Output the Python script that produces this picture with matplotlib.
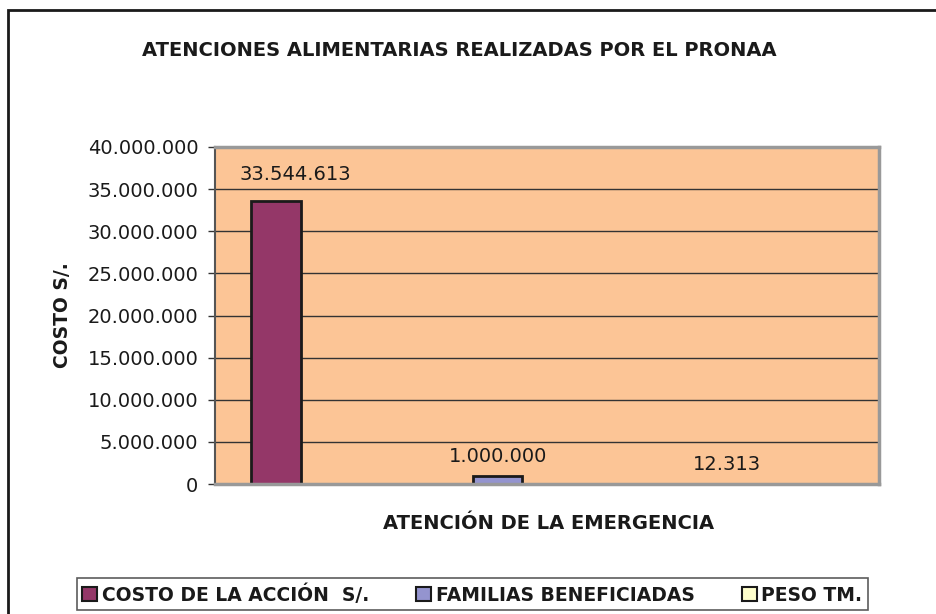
import matplotlib
matplotlib.use('Agg')
import matplotlib.pyplot as plt
from matplotlib.patches import Rectangle
from matplotlib.ticker import FuncFormatter, MultipleLocator

# the original text is a wide Arial-like face; DejaVu Sans matches its widths better
plt.rcParams['font.family'] = ['DejaVu Sans']

# Data
series = ['COSTO DE LA ACCIÓN  S/.', 'FAMILIAS BENEFICIADAS', 'PESO TM.']
values = [33544613, 1000000, 12313]
colors = ['#943768', '#9494CF', '#FFFFCC']
title = 'ATENCIONES ALIMENTARIAS REALIZADAS POR EL PRONAA'
xlabel = 'ATENCIÓN DE LA EMERGENCIA'
ylabel = 'COSTO S/.'

def miles(v, pos=None):
    return f"{int(round(v)):,}".replace(',', '.')

fig = plt.figure(figsize=(9.37, 6.14), dpi=100)
ax = fig.add_axes([0.2295, 0.2117, 0.7085, 0.5489])
ax.set_facecolor('#FCC596')

xs = list(range(len(values)))
bars = ax.bar(xs, values, width=0.222, color=colors, edgecolor='#1a1a1a', linewidth=2, zorder=2.4)

ax.set_xlim(-0.275, 2.72)
ax.set_ylim(0, 40000000)
ax.yaxis.set_major_locator(MultipleLocator(5000000))
ax.yaxis.set_major_formatter(FuncFormatter(miles))
ax.grid(axis='y', color='#333333', linewidth=1, zorder=1)
ax.set_axisbelow(True)
ax.set_xticks([])
ax.tick_params(axis='y', direction='out', length=5, width=1, colors='#333333',
               labelsize=14, labelcolor='#1a1a1a', pad=7)

for side in ['top', 'right', 'bottom']:
    ax.spines[side].set_color('#999999')
    ax.spines[side].set_linewidth(2.5)
ax.spines['left'].set_color('#555555')
ax.spines['left'].set_linewidth(1.5)

# data labels (first one was moved by hand in the original)
offsets = [(19, 17), (0, 10), (8, 10)]
for b, v, off in zip(bars, values, offsets):
    ax.annotate(miles(v), (b.get_x() + b.get_width() / 2, b.get_height()),
                xytext=off, textcoords='offset pixels', ha='center', va='bottom',
                fontsize=14, color='#1a1a1a', zorder=4)

fig.text(0.490, 0.917, title, ha='center', va='center', fontsize=14, fontweight='bold', color='#1a1a1a')
fig.text(0.067, 0.487, ylabel, ha='center', va='center', rotation=90, fontsize=13.5,
         fontweight='bold', color='#1a1a1a')
fig.text(0.585, 0.148, xlabel, ha='center', va='center', fontsize=14, fontweight='bold', color='#1a1a1a')

handles = [Rectangle((0, 0), 1, 1, facecolor=c, edgecolor='#1a1a1a', linewidth=1.5) for c in colors]
leg = fig.legend(handles, series, loc='center', bbox_to_anchor=(0.504, 0.032), ncol=3,
                 frameon=True, fancybox=False, prop={'weight': 'bold', 'size': 13.5},
                 handlelength=0.8, handleheight=0.8, handletextpad=0.25, columnspacing=2.5,
                 borderpad=0.3, edgecolor='#333333')
leg.get_frame().set_linewidth(1.2)
for t in leg.get_texts():
    t.set_color('#1a1a1a')

# outer chart border (right and bottom edges fall outside the image)
fig.patches.append(Rectangle((8 / 937, -0.1), 1.2, 1.1 - 10 / 614, transform=fig.transFigure,
                             fill=False, edgecolor='#1a1a1a', linewidth=2))

fig.savefig('out.png', dpi=100)
